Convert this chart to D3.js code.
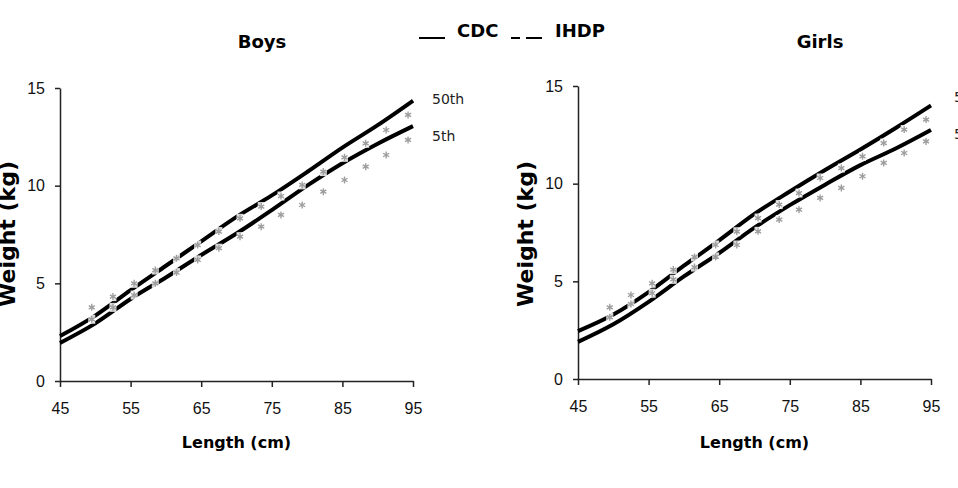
<!DOCTYPE html>
<html>
<head>
<meta charset="utf-8">
<script src="https://cdn.jsdelivr.net/npm/d3@7"></script>
<style>
  body { margin: 0; background: #fff; }
  svg { display: block; }
</style>
</head>
<body>
<div id="chart"></div>
<script>
var width = 958;
var height = 488;

// CDC reference curves, read every 5 cm
const lengthCm = [45, 50, 55, 60, 65, 70, 75, 80, 85, 90, 95];
const boysCdc50 = [2.3, 3.35, 4.65, 5.9, 7.15, 8.4, 9.5, 10.7, 11.95, 13.1, 14.35];
const boysCdc5 = [1.95, 2.95, 4.2, 5.3, 6.45, 7.55, 8.75, 10.0, 11.15, 12.15, 13.05];
const girlsCdc50 = [2.45, 3.3, 4.45, 5.8, 7.1, 8.45, 9.6, 10.7, 11.75, 12.85, 14.0];
const girlsCdc5 = [1.9, 2.8, 3.95, 5.25, 6.45, 7.75, 8.9, 9.95, 10.95, 11.8, 12.75];

// IHDP points (small grey marks)
const ihdpLength = [49.5, 52.5, 55.5, 58.5, 61.5, 64.5, 67.5, 70.5, 73.5, 76.3, 79.3, 82.3, 85.3, 88.3, 91.2, 94.3];
const boysIhdp50 = [3.77, 4.32, 5.0, 5.68, 6.28, 6.96, 7.65, 8.33, 8.93, 9.47, 10.04, 10.72, 11.45, 12.17, 12.85, 13.62];
const boysIhdp5 = [3.16, 3.77, 4.4, 5.0, 5.55, 6.2, 6.8, 7.39, 7.9, 8.5, 9.01, 9.69, 10.29, 10.97, 11.57, 12.34];
const girlsIhdp50 = [3.67, 4.3, 4.9, 5.6, 6.25, 6.86, 7.54, 8.24, 8.93, 9.52, 10.29, 10.8, 11.4, 12.08, 12.77, 13.28];
const girlsIhdp5 = [3.16, 3.84, 4.39, 5.1, 5.73, 6.25, 6.86, 7.56, 8.16, 8.67, 9.27, 9.78, 10.38, 11.06, 11.57, 12.16];

const xTicks = [45, 55, 65, 75, 85, 95];
const yTicks = [0, 5, 10, 15];
const percentileNames = ['50th', '5th'];
const percentileLabelAt = [14.2, 12.3];

const svg = d3.select('#chart')
    .append('svg')
    .attr('width', width)
    .attr('height', height);

svg.append('rect').attr('width', width).attr('height', height).attr('fill', '#fff');

const boldFont = 'DejaVu Sans, Verdana, sans-serif';
const tickFont = '"Liberation Sans", Arial, sans-serif';

const mark = d3.symbol().type(d3.symbolAsterisk).size(34);

function drawPanel(p) {
    const x = d3.scaleLinear().domain([45, 95]).range([p.left, p.right]);
    const y = d3.scaleLinear().domain([0, 15]).range([p.bottom, p.top]);
    const g = svg.append('g');

    // axes
    const xAxis = g.append('g')
        .attr('transform', 'translate(0,' + p.bottom + ')')
        .call(d3.axisBottom(x).tickValues(xTicks).tickSize(6).tickSizeOuter(0).tickPadding(16));
    const yAxis = g.append('g')
        .attr('transform', 'translate(' + p.left + ',0)')
        .call(d3.axisLeft(y).tickValues(yTicks).tickSize(5).tickSizeOuter(0).tickPadding(10));
    [xAxis, yAxis].forEach(a => {
        a.select('.domain').attr('stroke', '#222').attr('stroke-width', 1.5);
        a.selectAll('.tick line').attr('stroke', '#222').attr('stroke-width', 1.5);
        a.selectAll('.tick text')
            .attr('fill', '#111')
            .style('font-family', tickFont)
            .style('font-size', '16px');
    });

    // CDC curves
    const line = d3.line()
        .x((d, i) => x(lengthCm[i]))
        .y(d => y(d))
        .curve(d3.curveMonotoneX);
    [p.cdc50, p.cdc5].forEach(s => {
        g.append('path')
            .datum(s)
            .attr('fill', 'none')
            .attr('stroke', '#000')
            .attr('stroke-width', 4)
            .attr('stroke-linejoin', 'round')
            .attr('d', line);
    });

    // IHDP marks: white patch that breaks the black line, grey asterisk on top
    [p.ihdp50, p.ihdp5].forEach(s => {
        const m = g.append('g')
            .selectAll('g')
            .data(s)
            .enter()
            .append('g')
            .attr('transform', (d, i) => 'translate(' + x(ihdpLength[i]) + ',' + y(d) + ')');
        m.append('rect')
            .attr('x', -3.5).attr('y', -4.5)
            .attr('width', 7).attr('height', 9)
            .attr('fill', '#fff')
            .attr('fill-opacity', 0.85);
        m.append('path')
            .attr('d', mark)
            .attr('fill', 'none')
            .attr('stroke', '#9e9e9e')
            .attr('stroke-width', 1.4);
    });

    // percentile labels
    g.selectAll('.pct')
        .data(percentileNames)
        .enter()
        .append('text')
        .attr('x', p.labelX)
        .attr('y', (d, i) => y(percentileLabelAt[i]))
        .attr('fill', '#222')
        .style('font-family', boldFont)
        .style('font-size', '14px')
        .text(d => d);

    // titles
    g.append('text')
        .attr('x', p.titleX)
        .attr('y', 48)
        .attr('text-anchor', 'middle')
        .style('font-family', boldFont)
        .style('font-weight', 'bold')
        .style('font-size', '18px')
        .text(p.title);

    g.append('text')
        .attr('x', (p.left + p.right) / 2)
        .attr('y', 448)
        .attr('text-anchor', 'middle')
        .style('font-family', boldFont)
        .style('font-weight', 'bold')
        .style('font-size', '16px')
        .text('Length (cm)');

    g.append('text')
        .attr('transform', 'translate(' + (p.left - 45) + ',' + 234 + ') rotate(-90)')
        .attr('text-anchor', 'middle')
        .style('font-family', boldFont)
        .style('font-weight', 'bold')
        .style('font-size', '22px')
        .text('Weight (kg)');
}

drawPanel({
    title: 'Boys', titleX: 262,
    left: 60, right: 413, top: 88, bottom: 381, labelX: 432,
    cdc50: boysCdc50, cdc5: boysCdc5, ihdp50: boysIhdp50, ihdp5: boysIhdp5
});
drawPanel({
    title: 'Girls', titleX: 820,
    left: 578, right: 931, top: 86, bottom: 379, labelX: 954,
    cdc50: girlsCdc50, cdc5: girlsCdc5, ihdp50: girlsIhdp50, ihdp5: girlsIhdp5
});

// legend
const legend = svg.append('g');
legend.append('line')
    .attr('x1', 419).attr('x2', 445).attr('y1', 38).attr('y2', 38)
    .attr('stroke', '#000').attr('stroke-width', 2);
legend.append('text')
    .attr('x', 457).attr('y', 37)
    .style('font-family', boldFont).style('font-weight', 'bold').style('font-size', '18px')
    .text('CDC');
[[511, 520], [526, 542]].forEach(s => {
    legend.append('line')
        .attr('x1', s[0]).attr('x2', s[1]).attr('y1', 38).attr('y2', 38)
        .attr('stroke', '#000').attr('stroke-width', 2);
});
legend.append('text')
    .attr('x', 555).attr('y', 37)
    .style('font-family', boldFont).style('font-weight', 'bold').style('font-size', '18px')
    .text('IHDP');
</script>
</body>
</html>
